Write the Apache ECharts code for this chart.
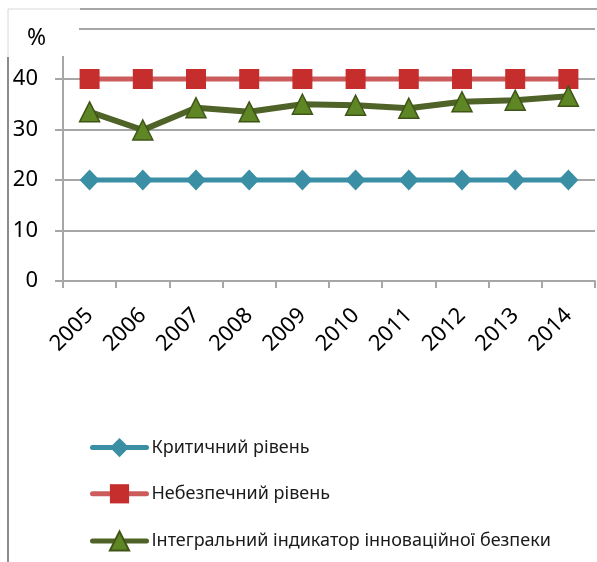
<!DOCTYPE html>
<html>
<head>
<meta charset="utf-8">
<script src="https://cdn.jsdelivr.net/npm/echarts@6/dist/echarts.min.js"></script>
<style>
  html, body { margin: 0; padding: 0; background: #fff; }
  #chart { width: 597px; height: 562px; }
</style>
</head>
<body>
<div id="chart"></div>
<script>
var years = ['2005', '2006', '2007', '2008', '2009', '2010', '2011', '2012', '2013', '2014'];
var critical = [20, 20, 20, 20, 20, 20, 20, 20, 20, 20];
var dangerous = [40, 40, 40, 40, 40, 40, 40, 40, 40, 40];
var integral = [33.5, 29.9, 34.3, 33.5, 35.0, 34.8, 34.2, 35.5, 35.8, 36.6];
var yTicks = [0, 10, 20, 30, 40];

var font = '"Noto Sans", "Open Sans", sans-serif';
var gridColor = '#a6a6a6';

var option = {
    animation: false,
    textStyle: { fontFamily: font },
    grid: { left: 63, right: 2, top: 28.5, bottom: 281 },
    legend: {
        orient: 'vertical',
        left: 90,
        top: 438,
        padding: 0,
        itemWidth: 54,
        itemHeight: 24,
        itemGap: 27,
        lineStyle: { width: 5, cap: 'round' },
        textStyle: { fontSize: 18, color: '#1a1a1a', fontFamily: font },
        data: ['Критичний рівень', 'Небезпечний рівень', 'Інтегральний індикатор інноваційної безпеки']
    },
    xAxis: {
        type: 'category',
        data: years,
        boundaryGap: true,
        axisLine: { lineStyle: { color: gridColor, width: 2 } },
        axisTick: { show: true, length: 7, lineStyle: { color: gridColor, width: 2 } },
        axisLabel: { rotate: 45, fontSize: 22, color: '#000', margin: 31, interval: 0 }
    },
    yAxis: {
        type: 'value',
        min: 0,
        max: 50,
        interval: 10,
        axisLine: { show: true, lineStyle: { color: gridColor, width: 2 } },
        axisTick: { show: true, length: 8, lineStyle: { color: gridColor, width: 2 } },
        splitLine: { lineStyle: { color: gridColor, width: 2 } },
        axisLabel: {
            fontSize: 22, color: '#000', margin: 25,
            formatter: function (v) { return yTicks.indexOf(v) >= 0 ? String(v) : ''; }
        }
    },
    graphic: [
        { type: 'rect', z: 100, shape: { x: 9, y: 10, width: 70, height: 46 }, style: { fill: '#fff' } },
        { type: 'line', z: 100, shape: { x1: 80, y1: 9, x2: 597, y2: 9 }, style: { stroke: gridColor, lineWidth: 2 } },
        { type: 'line', z: 100, shape: { x1: 8, y1: 9, x2: 80, y2: 9 }, style: { stroke: '#d8d8d8', lineWidth: 1 } },
        { type: 'line', z: 100, shape: { x1: 8, y1: 9, x2: 8, y2: 57 }, style: { stroke: '#d8d8d8', lineWidth: 1 } },
        { type: 'line', z: 100, shape: { x1: 8, y1: 57, x2: 8, y2: 562 }, style: { stroke: '#8c8c8c', lineWidth: 2 } },
        { type: 'text', z: 101, left: 27, top: 27, style: { text: '%', fontSize: 23, fill: '#000', fontFamily: font } }
    ],
    series: [
        {
            name: 'Критичний рівень',
            type: 'line',
            data: critical,
            symbol: 'diamond',
            symbolSize: [20, 21],
            lineStyle: { color: '#3a8fa5', width: 5 },
            itemStyle: { color: '#3a8fa5' }
        },
        {
            name: 'Небезпечний рівень',
            type: 'line',
            data: dangerous,
            symbol: 'rect',
            symbolSize: 20,
            lineStyle: { color: '#cc5c5c', width: 5 },
            itemStyle: { color: '#c62e2e' }
        },
        {
            name: 'Інтегральний індикатор інноваційної безпеки',
            type: 'line',
            data: integral,
            symbol: 'triangle',
            symbolSize: [20, 20],
            lineStyle: { color: '#4f6228', width: 6 },
            itemStyle: { color: '#5e8624', borderColor: '#3f5518', borderWidth: 1.5 }
        }
    ]
};

var myChart = echarts.init(document.getElementById('chart'));
myChart.setOption(option);
</script>
</body>
</html>
